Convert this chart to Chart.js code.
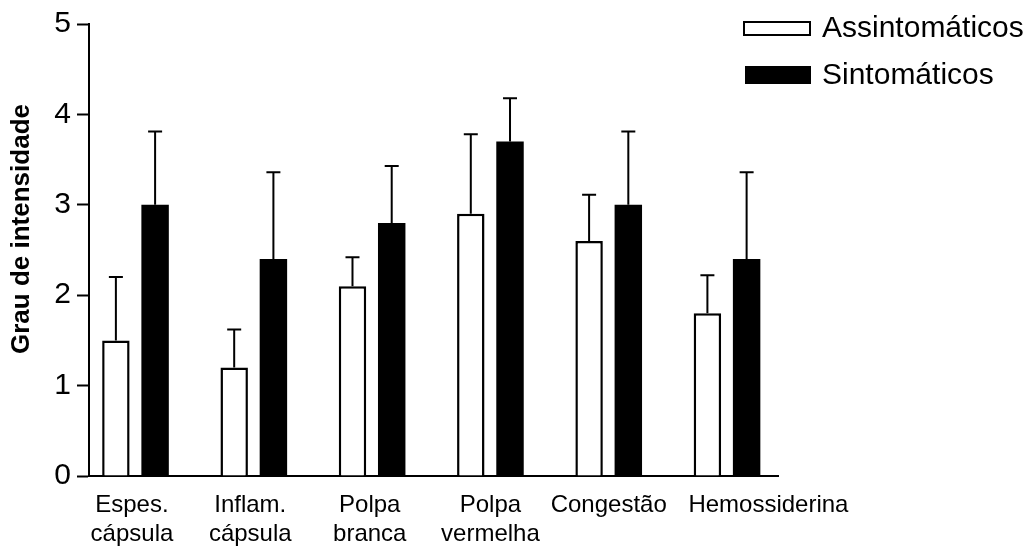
<!DOCTYPE html>
<html>
<head>
<meta charset="utf-8">
<script src="https://cdn.jsdelivr.net/npm/chart.js@4.4.1/dist/chart.umd.min.js"></script>
<style>
  html, body { margin: 0; padding: 0; background: #fff; }
  #wrap { width: 1036px; height: 551px; }
</style>
</head>
<body>
<div id="wrap"><canvas id="grauChart" width="1036" height="551"></canvas></div>
<script>
const categories = [
    ['Espes.', 'cápsula'],
    ['Inflam.', 'cápsula'],
    ['Polpa', 'branca'],
    ['Polpa', 'vermelha'],
    'Congestão',
    'Hemossiderina'
];
const assintomaticos = [1.5, 1.2, 2.1, 2.9, 2.6, 1.8];
const assintomaticosErr = [0.70, 0.42, 0.32, 0.88, 0.51, 0.42];
const sintomaticos = [3.0, 2.4, 2.8, 3.7, 3.0, 2.4];
const sintomaticosErr = [0.81, 0.96, 0.63, 0.48, 0.81, 0.96];
const yTicks = [0, 1, 2, 3, 4, 5];
const yTitle = 'Grau de intensidade';

// label nudges along x (the last label sits right of its bars in the original)
const labelShift = [-0.03, -0.03, -0.02, 0, 0, 0.35];

const FONT = "'Liberation Sans', Arial, sans-serif";

function toPoints(values) {
    return values.map(function(v, i) { return { x: i, y: v }; });
}

// error bars (upper half only, with cap)
const errorBars = {
    id: 'errorBars',
    afterDatasetsDraw(chart) {
        const ctx = chart.ctx;
        const yScale = chart.scales.y;
        ctx.save();
        ctx.strokeStyle = '#000';
        ctx.lineWidth = 2;
        chart.data.datasets.forEach(function(ds, di) {
            const meta = chart.getDatasetMeta(di);
            meta.data.forEach(function(bar, i) {
                const top = yScale.getPixelForValue(ds.data[i].y + ds.errors[i]);
                ctx.beginPath();
                ctx.moveTo(bar.x, bar.y);
                ctx.lineTo(bar.x, top);
                ctx.moveTo(bar.x - 7, top);
                ctx.lineTo(bar.x + 7, top);
                ctx.stroke();
            });
        });
        ctx.restore();
    }
};

// legend in the top right corner + y title placed as in the original figure
const extras = {
    id: 'extras',
    afterDraw(chart) {
        const ctx = chart.ctx;
        ctx.save();
        ctx.font = '30px ' + FONT;
        ctx.textBaseline = 'middle';
        chart.data.datasets.forEach(function(ds, i) {
            const y = 28 + i * 47;
            if (ds.backgroundColor === '#000') {
                ctx.fillStyle = '#000';
                ctx.fillRect(745, y - 9, 66, 18);
            } else {
                ctx.fillStyle = '#fff';
                ctx.fillRect(744, y - 6, 66, 13);
                ctx.strokeStyle = '#000';
                ctx.lineWidth = 2;
                ctx.strokeRect(744, y - 6, 66, 13);
            }
            ctx.fillStyle = '#000';
            ctx.textAlign = 'left';
            ctx.fillText(ds.label, 822, y + 1);
        });

        ctx.translate(22, 229);
        ctx.rotate(-Math.PI / 2);
        ctx.font = 'bold 26px ' + FONT;
        ctx.textAlign = 'center';
        ctx.fillText(yTitle, 0, 0);
        ctx.restore();
    }
};

const ctx = document.getElementById('grauChart').getContext('2d');
const grauChart = new Chart(ctx, {
    type: 'bar',
    data: {
        datasets: [{
            label: 'Assintomáticos',
            data: toPoints(assintomaticos),
            errors: assintomaticosErr,
            backgroundColor: '#fff',
            borderColor: '#000',
            borderWidth: 2.5,
            borderSkipped: 'bottom'
        }, {
            label: 'Sintomáticos',
            data: toPoints(sintomaticos),
            errors: sintomaticosErr,
            backgroundColor: '#000',
            borderColor: '#000',
            borderWidth: 0
        }]
    },
    options: {
        responsive: false,
        animation: false,
        categoryPercentage: 0.663,
        barPercentage: 0.7,
        layout: {
            padding: { top: 17, right: 258, left: 0, bottom: 0 }
        },
        plugins: {
            legend: { display: false },
            tooltip: { enabled: false }
        },
        scales: {
            x: {
                type: 'linear',
                offset: false,
                min: -0.393,
                max: 5.431,
                afterBuildTicks: function(scale) {
                    scale.ticks = categories.map(function(c, i) { return { value: i + labelShift[i] }; });
                },
                afterFit: function(scale) { scale.height = 75; },
                grid: { display: false, drawTicks: false },
                border: { display: true, color: '#000', width: 2 },
                ticks: {
                    color: '#000',
                    padding: 15,
                    maxRotation: 0,
                    autoSkip: false,
                    font: { family: FONT, size: 24 },
                    callback: function(value, index) { return categories[index]; }
                }
            },
            y: {
                min: 0,
                max: 5,
                afterBuildTicks: function(scale) {
                    scale.ticks = yTicks.map(function(v) { return { value: v }; });
                },
                afterFit: function(scale) { scale.width = 89; },
                grid: {
                    drawOnChartArea: false,
                    tickLength: 12,
                    tickColor: '#000',
                    tickWidth: 2
                },
                border: { display: true, color: '#000', width: 2 },
                ticks: {
                    color: '#000',
                    padding: 6,
                    font: { family: FONT, size: 30 }
                }
            }
        }
    },
    plugins: [errorBars, extras]
});
</script>
</body>
</html>
